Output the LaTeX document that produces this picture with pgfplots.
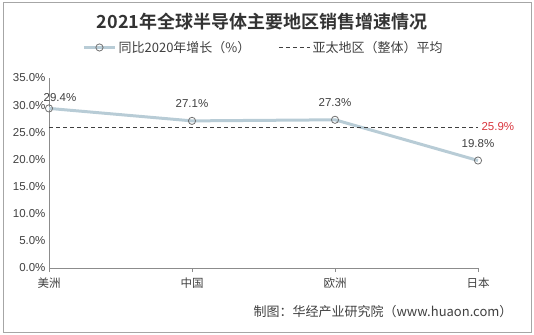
\documentclass[border=0pt]{standalone}
\usepackage{fontspec}
\setmainfont{Liberation Sans}
\newfontfamily\cjk{Noto Sans CJK SC}
\newfontfamily\cjkb{Noto Sans CJK SC Bold}
\usepackage{pgfplots}
\pgfplotsset{compat=1.18}
\definecolor{linec}{HTML}{B8CCD6}
\definecolor{markc}{HTML}{707070}
\definecolor{txt}{HTML}{404040}
\definecolor{axisc}{HTML}{8C8C8C}
\definecolor{redc}{HTML}{D9363E}
\definecolor{framec}{HTML}{A6A6A6}
\begin{document}
\begin{tikzpicture}[x=1pt,y=1pt]
\draw[framec, line width=1pt] (3,-3) rectangle (531,-332);
\node[txt!80!black, font=\cjkb\fontsize{18}{20}\selectfont] at (262,-22) {2021年全球半导体主要地区销售增速情况};
\node[txt, font=\cjk\fontsize{13}{15}\selectfont, anchor=west] at (250,-312) {制图：华经产业研究院（www.huaon.com）};
\begin{axis}[
  at={(49pt,-268pt)}, anchor=south west,
  scale only axis, width=429pt, height=190pt,
  xmin=0, xmax=3, ymin=0, ymax=35,
  axis lines*=left,
  axis line style={axisc, line width=0.8pt},
  xtick={0,1,2,3},
  xticklabels={美洲,中国,欧洲,日本},
  x tick label style={font=\cjk\fontsize{11.5}{13}\selectfont, text=txt, yshift=-2pt},
  ytick={0,5,...,35},
  yticklabel={\pgfmathprintnumber[fixed,fixed zerofill,precision=1]{\tick}\%},
  y tick label style={font=\fontsize{11.5}{13}\selectfont, text=txt},
  /pgf/number format/assume math mode=true,
  major tick length=4pt,
  tick style={axisc, line width=0.8pt},
  ytick style={draw=none},
  xtick align=outside,
  clip=false,
  legend columns=2,
  legend style={at={(0.5,1)}, anchor=south, yshift=20pt, draw=none, fill=none,
    font=\cjk\fontsize{13}{15}\selectfont, text=txt,
    /tikz/every even column/.append style={column sep=26pt}},
  legend image code/.code={\draw[#1] (0,0) -- (1.1cm,0) plot coordinates {(0.55cm,0)};},
]
\addplot[linec, line width=3pt, mark=o, mark size=3.6pt,
  mark options={draw=markc, fill=white, line width=0.8pt, solid}]
  coordinates {(0,29.4) (1,27.1) (2,27.3) (3,19.8)};
\addlegendentry{同比2020年增长（\%）}
\addplot[txt, line width=0.9pt, dash pattern=on 4pt off 3pt, mark=none]
  coordinates {(0,25.9) (3,25.9)};
\addlegendentry{亚太地区（整体）平均}
\node[txt, font=\fontsize{11.5}{13}\selectfont] at (axis cs:0,29.4) [xshift=11pt, yshift=11pt] {29.4\%};
\node[txt, font=\fontsize{11.5}{13}\selectfont] at (axis cs:1,27.1) [yshift=17pt] {27.1\%};
\node[txt, font=\fontsize{11.5}{13}\selectfont] at (axis cs:2,27.3) [yshift=17pt] {27.3\%};
\node[txt, font=\fontsize{11.5}{13}\selectfont] at (axis cs:3,19.8) [yshift=17pt] {19.8\%};
\node[redc, font=\fontsize{11.5}{13}\selectfont, anchor=west] at (axis cs:3,25.9) [yshift=1pt] {25.9\%};
\end{axis}
\pgfresetboundingbox
\path[use as bounding box] (0,0) rectangle (534,-334);
\end{tikzpicture}
\end{document}
